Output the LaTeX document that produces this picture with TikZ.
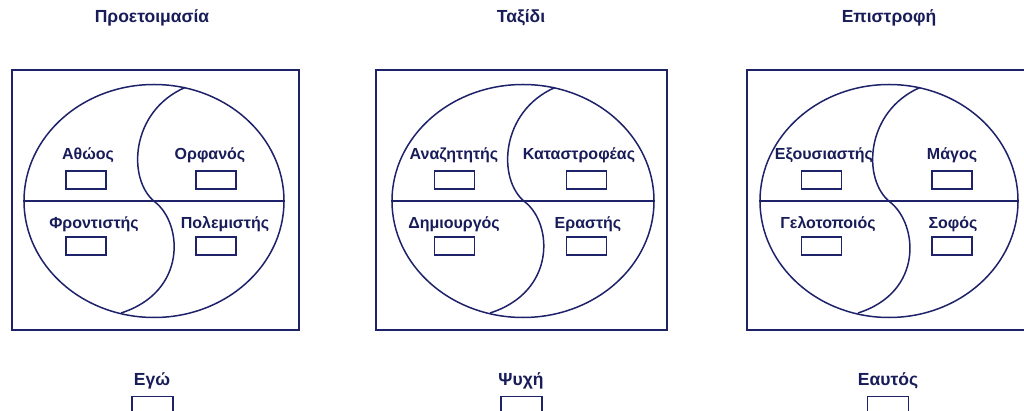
\documentclass[tikz,border=0pt]{standalone}
\usepackage{fontspec}
\setmainfont{Liberation Sans}
\usetikzlibrary{shapes.geometric}
\definecolor{ink}{RGB}{30,34,105}
\definecolor{txt}{RGB}{24,28,88}
\tikzset{
  lab/.style={anchor=base,inner sep=0pt,text=txt,font=\fontsize{16}{19}\selectfont\bfseries},
  ttl/.style={anchor=base,inner sep=0pt,text=txt,font=\fontsize{17.5}{20}\selectfont\bfseries},
  slot/.style={draw=ink,line width=1.3pt,minimum width=40pt,minimum height=18pt,inner sep=0pt},
  bigslot/.style={draw=ink,line width=1.4pt,minimum width=41pt,minimum height=22pt,inner sep=0pt,anchor=north},
  frame/.style={draw=ink,line width=1.5pt},
  curve/.style={draw=ink,line width=1.5pt},
}
\begin{document}
\begin{tikzpicture}[x=1pt,y=-1pt]
\useasboundingbox (0,0) rectangle (1024,411);
\clip (0,0) rectangle (1024,411);
\fill[white] (0,0) rectangle (1024,411);

% ---------- Panel 1 ----------
\node[ttl] (t1) at (152,23) {Προετοιμασία};
\draw[frame] (12,70) rectangle (299,330);
\node[curve,ellipse,minimum width=260pt,minimum height=233pt,inner sep=0pt] (e1) at (154,201) {};
\draw[curve] (e1.west) -- (e1.east);
\coordinate (p1T) at (185,87.5);
\coordinate (p1C) at (155,202);
\coordinate (p1B) at (121,313);
\draw[curve] (p1T) .. controls +(-55,24) and +(-28,-22) .. (p1C)
                   .. controls +(28,22) and +(66,-21) .. (p1B);
\node[lab] (a1) at (88,160) {Αθώος};
\node[lab] (a2) at (210,160) {Ορφανός};
\node[lab] (a3) at (94,229) {Φροντιστής};
\node[lab] (a4) at (225,229) {Πολεμιστής};
\node[slot] (s1) at (86,180) {};
\node[slot] (s2) at (216,180) {};
\node[slot] (s3) at (86,246) {};
\node[slot] (s4) at (216,246) {};
\node[ttl] (b1) at (152,385) {Εγώ};
\node[bigslot] (bs1) at (152.5,396) {};

% ---------- Panel 2 ----------
\node[ttl] (t2) at (521,23) {Ταξίδι};
\draw[frame] (376,70) rectangle (667,330);
\node[curve,ellipse,minimum width=262pt,minimum height=233pt,inner sep=0pt] (e2) at (523,201) {};
\draw[curve] (e2.west) -- (e2.east);
\coordinate (p2T) at (555,87.5);
\coordinate (p2C) at (525,202);
\coordinate (p2B) at (490,313);
\draw[curve] (p2T) .. controls +(-55,24) and +(-28,-22) .. (p2C)
                   .. controls +(28,22) and +(66,-21) .. (p2B);
\node[lab] (c1) at (454,160) {Αναζητητής};
\node[lab] (c2) at (579,160) {Καταστροφέας};
\node[lab] (c3) at (454,229) {Δημιουργός};
\node[lab] (c4) at (588,229) {Εραστής};
\node[slot] (u1) at (454.5,180) {};
\node[slot] (u2) at (586.5,180) {};
\node[slot] (u3) at (454.5,246) {};
\node[slot] (u4) at (586.5,246) {};
\node[ttl] (b2) at (521,385) {Ψυχή};
\node[bigslot] (bs2) at (521.5,396) {};

% ---------- Panel 3 ----------
\node[ttl] (t3) at (889,23) {Επιστροφή};
\draw[frame] (747,70) rectangle (1040,330);
\node[curve,ellipse,minimum width=258pt,minimum height=233pt,inner sep=0pt] (e3) at (889,201) {};
\draw[curve] (e3.west) -- (e3.east);
\coordinate (p3T) at (920,87.5);
\coordinate (p3C) at (890,202);
\coordinate (p3B) at (858,313);
\draw[curve] (p3T) .. controls +(-55,24) and +(-28,-22) .. (p3C)
                   .. controls +(28,22) and +(66,-21) .. (p3B);
\node[lab] (d1) at (824,160) {Εξουσιαστής};
\node[lab] (d2) at (952,160) {Μάγος};
\node[lab] (d3) at (828,229) {Γελοτοποιός};
\node[lab] (d4) at (953,229) {Σοφός};
\node[slot] (v1) at (821.5,180) {};
\node[slot] (v2) at (952,180) {};
\node[slot] (v3) at (821.5,246) {};
\node[slot] (v4) at (952,246) {};
\node[ttl] (b3) at (888,385) {Εαυτός};
\node[bigslot] (bs3) at (888,396) {};
\end{tikzpicture}
\end{document}
